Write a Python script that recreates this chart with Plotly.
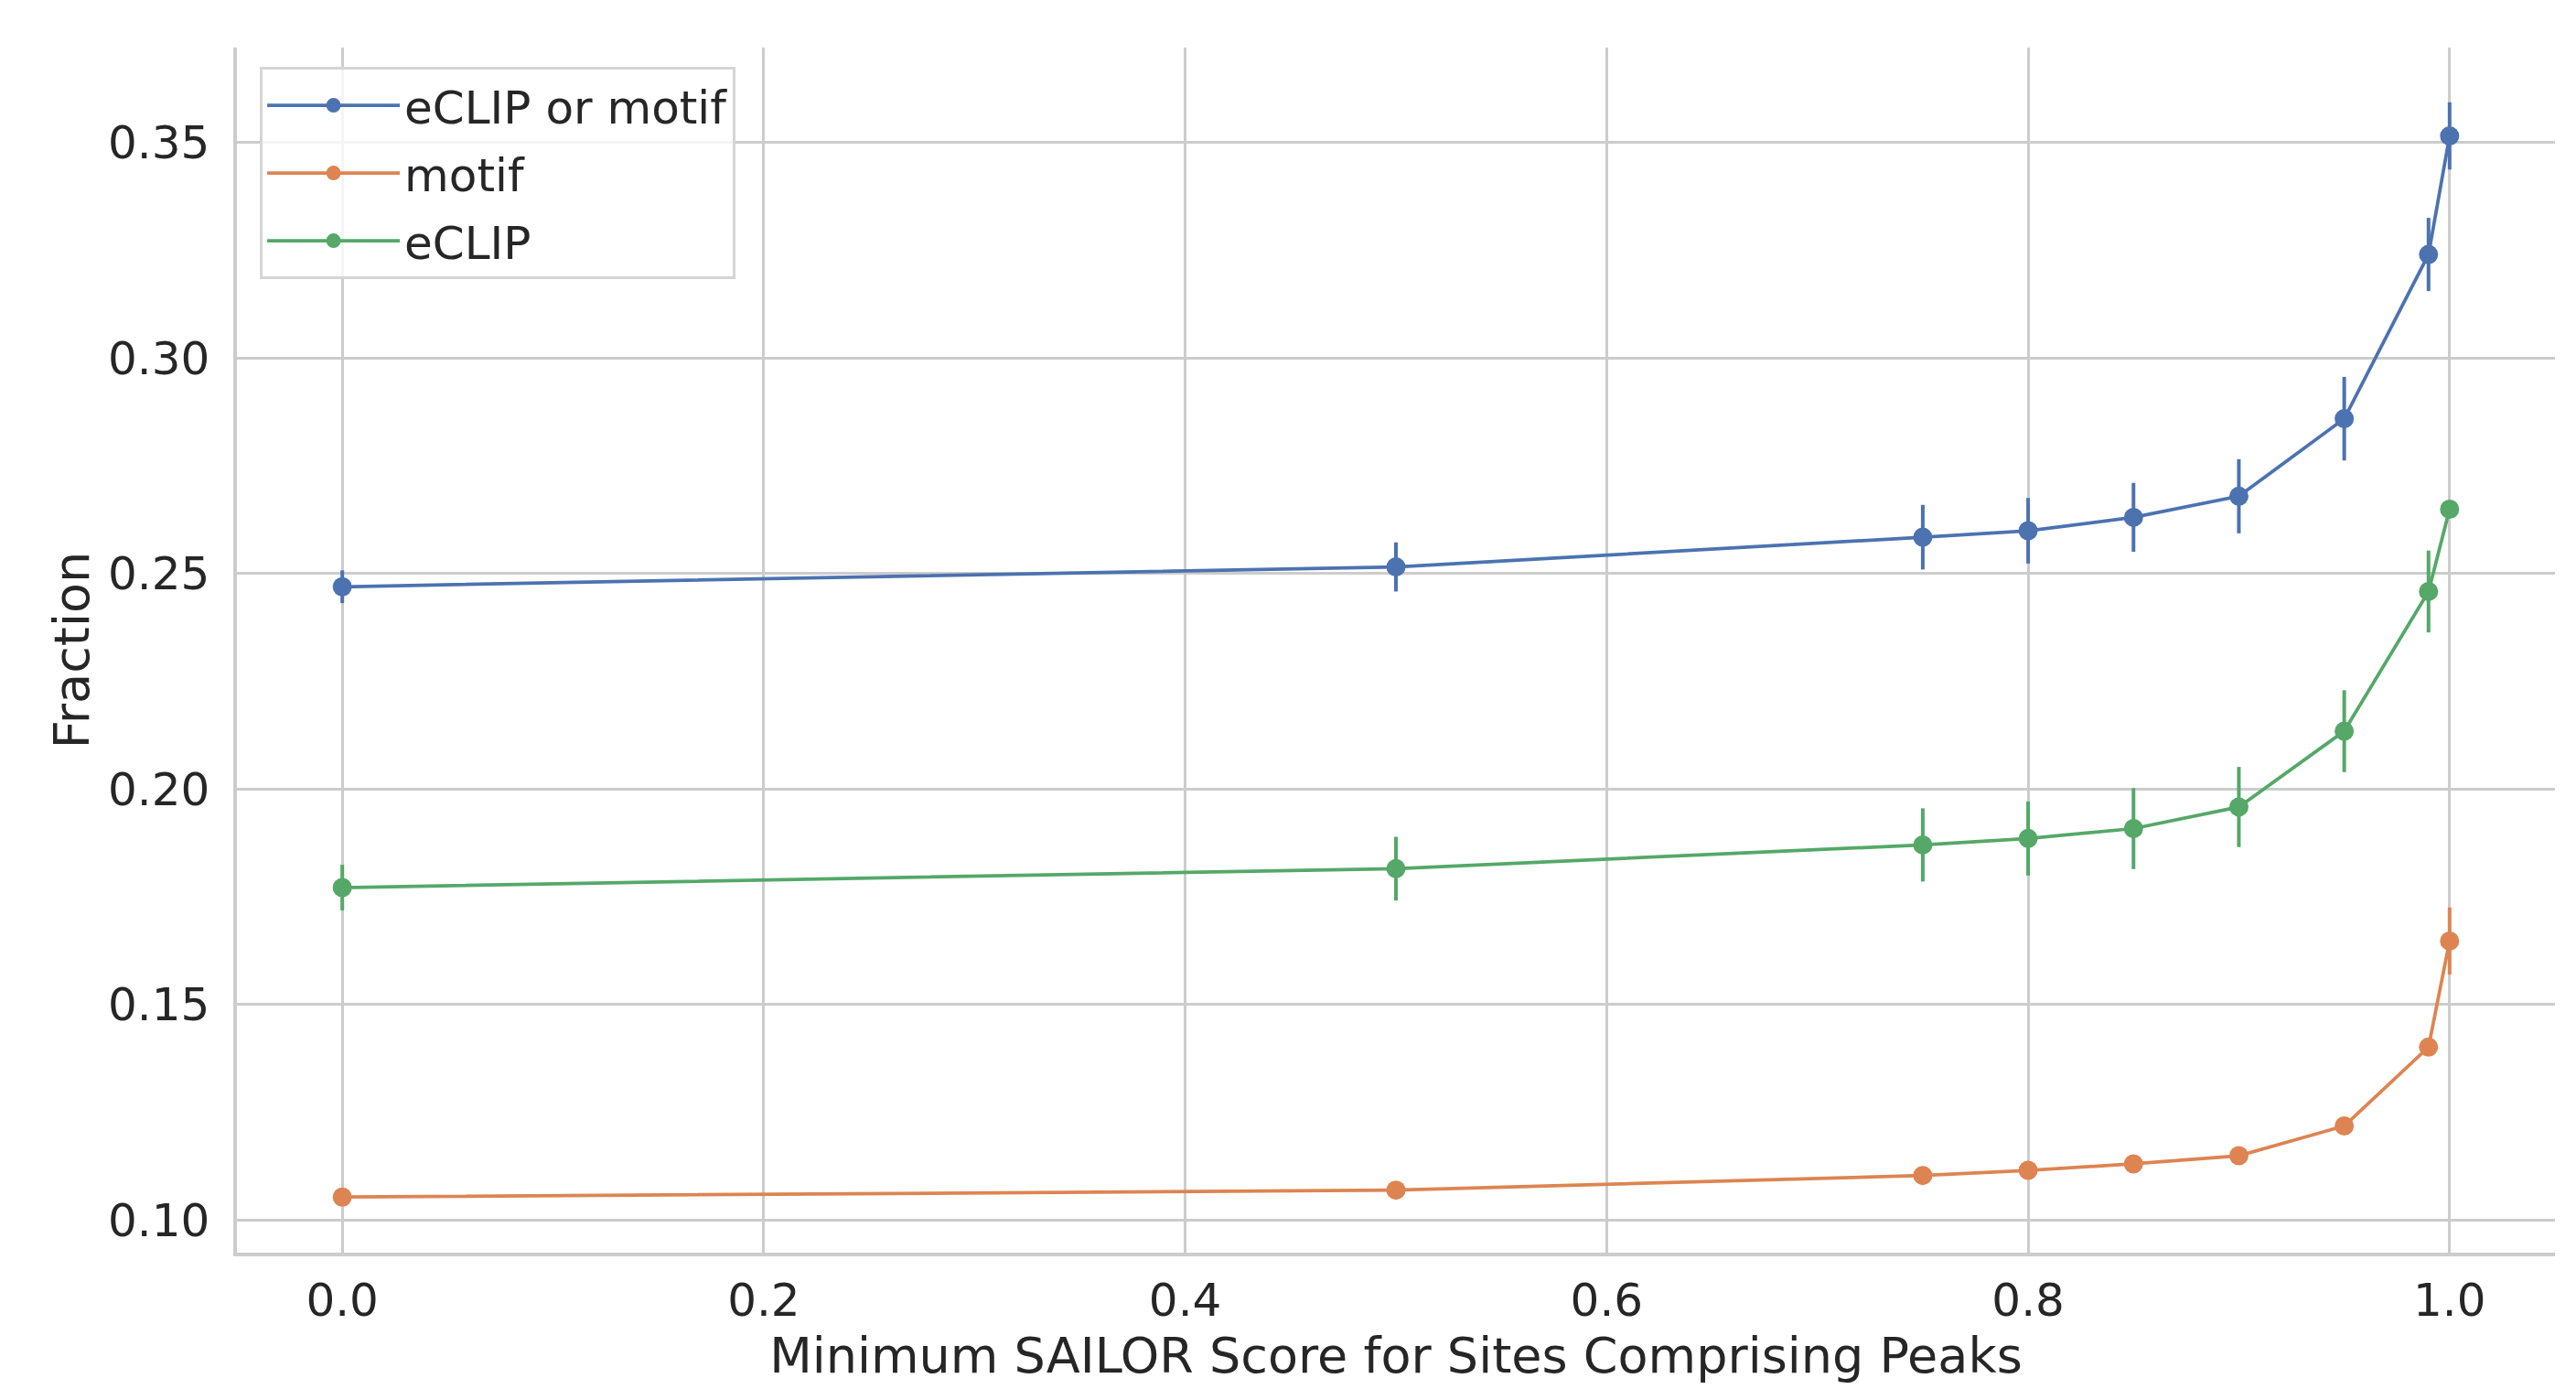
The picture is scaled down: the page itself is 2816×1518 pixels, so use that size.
import plotly.graph_objects as go

# minimum SAILOR score thresholds
scores = [0.0, 0.5, 0.75, 0.8, 0.85, 0.9, 0.95, 0.99, 1.0]

# fraction of peaks and error bar half-widths
either_frac = [0.2469, 0.2515, 0.2584, 0.2599, 0.2630, 0.2679, 0.2859, 0.3240, 0.3515]
either_err = [0.0038, 0.0057, 0.0075, 0.0076, 0.0080, 0.0086, 0.0097, 0.0085, 0.0078]

motif_frac = [0.1053, 0.1069, 0.1103, 0.1115, 0.1130, 0.1149, 0.1218, 0.1401, 0.1647]
motif_err = [0.0010, 0.0010, 0.0010, 0.0010, 0.0010, 0.0012, 0.0015, 0.0018, 0.0078]

eclip_frac = [0.1771, 0.1815, 0.1870, 0.1885, 0.1908, 0.1958, 0.2134, 0.2458, 0.2649]
eclip_err = [0.0053, 0.0074, 0.0085, 0.0086, 0.0094, 0.0093, 0.0095, 0.0095, 0.0]

series = [
    ("eCLIP or motif", either_frac, either_err, "#4C72B0"),
    ("motif", motif_frac, motif_err, "#DD8452"),
    ("eCLIP", eclip_frac, eclip_err, "#55A868"),
]

fig = go.Figure()
for i, (name, y, err, color) in enumerate(series):
    fig.add_trace(go.Scatter(
        x=scores, y=y, name=name, mode="lines+markers",
        line=dict(color=color, width=3.75),
        marker=dict(color=color, size=21),
        error_y=dict(type="data", array=err, color=color, thickness=4, width=0),
        legendgroup=f"g{i}",
    ))

text_color = "#262626"
grid_color = "#cccccc"

# page body adds an 8px offset, so the figure is 8px smaller each way
fig.update_layout(
    width=2808, height=1510,
    margin=dict(l=251, r=23, t=44, b=149),
    plot_bgcolor="white", paper_bgcolor="white",
    font=dict(family="DejaVu Sans", size=50, color=text_color),
    legend=dict(
        x=0.0099, y=0.984, xanchor="left", yanchor="top",
        bgcolor="rgba(255,255,255,0.8)", bordercolor="#d5d5d5", borderwidth=3,
        font=dict(size=50), traceorder="grouped", tracegroupgap=6,
        itemwidth=145,
    ),
)

fig.update_xaxes(
    range=[-0.05, 1.05], tickvals=[0.0, 0.2, 0.4, 0.6, 0.8, 1.0],
    ticktext=["0.0", "0.2", "0.4", "0.6", "0.8", "1.0"],
    showgrid=True, gridcolor=grid_color, gridwidth=2.5, zeroline=False,
    showline=True, linecolor=grid_color, linewidth=3.5,
    ticks="outside", ticklen=5, tickcolor="rgba(0,0,0,0)",
    title=dict(text="Minimum SAILOR Score for Sites Comprising Peaks",
               font=dict(size=54), standoff=10),
)
fig.update_yaxes(
    range=[0.0924, 0.372], tickvals=[0.10, 0.15, 0.20, 0.25, 0.30, 0.35],
    ticktext=["0.10", "0.15", "0.20", "0.25", "0.30", "0.35"],
    showgrid=True, gridcolor=grid_color, gridwidth=2.5, zeroline=False,
    showline=True, linecolor=grid_color, linewidth=3.5,
    ticks="outside", ticklen=16, tickcolor="rgba(0,0,0,0)",
    title=dict(text="Fraction", font=dict(size=54), standoff=4),
)

fig.write_html("out.html")
